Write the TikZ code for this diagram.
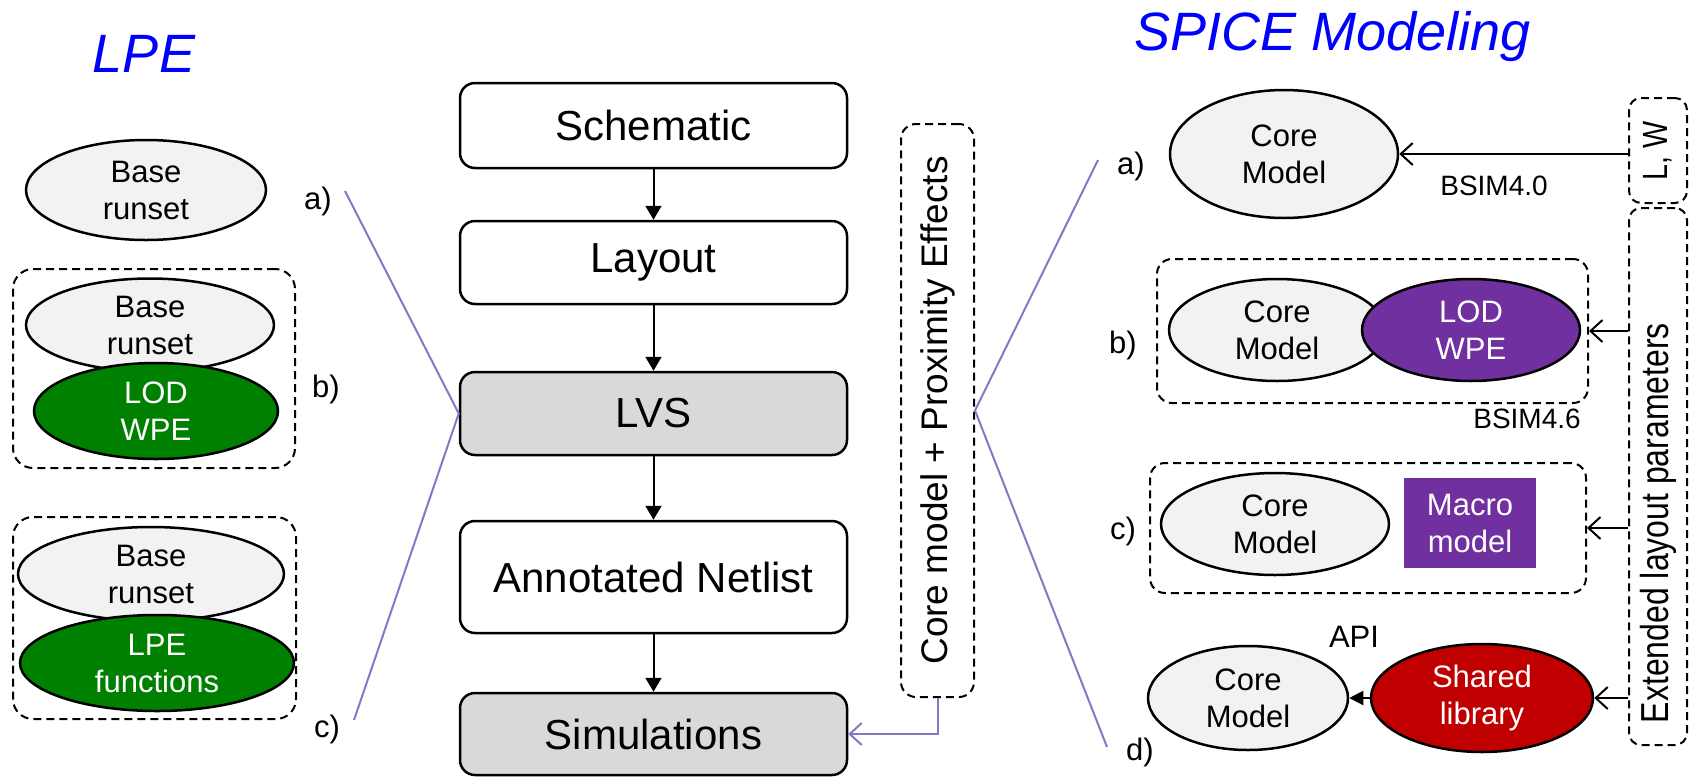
\documentclass[tikz,border=0pt]{standalone}
\usepackage{fontspec}
\setmainfont{Liberation Sans}
\usetikzlibrary{shapes.geometric,arrows.meta}

\definecolor{ovalgrey}{RGB}{242,242,242}
\definecolor{boxgrey}{RGB}{217,217,217}
\definecolor{lpegreen}{RGB}{0,128,0}
\definecolor{wpepurple}{RGB}{112,48,160}
\definecolor{libred}{RGB}{192,0,0}
\definecolor{linkpurple}{RGB}{132,120,196}
\definecolor{titleblue}{RGB}{0,0,255}

\begin{document}
\begin{tikzpicture}[x=1pt,y=-1pt,
  flowbox/.style={draw,line width=2.5pt,rounded corners=15pt,minimum width=387pt,inner sep=0pt,font=\fontsize{42}{48}\selectfont},
  oval/.style={ellipse,draw,line width=2.5pt,fill=ovalgrey,inner sep=0pt,align=center,font=\fontsize{31}{37}\selectfont},
  grpbox/.style={draw,line width=2pt,dash pattern=on 8pt off 5pt,rounded corners=20pt,inner sep=0pt},
  letter/.style={font=\fontsize{31}{37}\selectfont,inner sep=0pt},
  sublabel/.style={font=\fontsize{28}{34}\selectfont,inner sep=0pt},
  flow/.style={line width=2pt,-{Triangle[length=14pt,width=16pt]}},
  feed/.style={line width=2pt,-{Straight Barb[length=12pt,width=22pt,line width=2pt]}},
  link/.style={draw=linkpurple,line width=2pt}]

\useasboundingbox (0,0) rectangle (1692,777);

% titles
\node[anchor=base,text=titleblue,font=\fontsize{54}{60}\selectfont\itshape] (lpetitle) at (144,72) {LPE};
\node[anchor=base,text=titleblue,font=\fontsize{54}{60}\selectfont\itshape] (spicetitle) at (1333,50) {SPICE Modeling};

% design flow
\node[flowbox,minimum height=85pt] (schem) at (653.5,125.5) {Schematic};
\node[flowbox,minimum height=83pt] (layout) at (653.5,262.5) {Layout};
\node[flowbox,minimum height=83pt,fill=boxgrey] (lvs) at (653.5,413.5) {LVS};
\node[flowbox,minimum height=112pt] (netlist) at (653.5,577) {Annotated Netlist};
\node[flowbox,minimum height=82pt,fill=boxgrey] (sims) at (653.5,734) {Simulations};
\foreach \a/\b in {schem/layout,layout/lvs,lvs/netlist,netlist/sims}
  \draw[flow] (\a) -- (\b);

\node[grpbox,rounded corners=15pt,minimum width=73pt,minimum height=573pt] (prox) at (937.5,410.5) {};
\node[rotate=90,font=\fontsize{37}{42}\selectfont] (proxtext) at (prox.center) {Core model + Proximity Effects};
\draw[link,-{Straight Barb[length=12pt,width=22pt,line width=2pt]}] (prox.south) |- (sims.east);

% LPE side
\node[oval,minimum width=240pt,minimum height=100pt] (baseA) at (146,190) {Base\\runset};
\node[letter] (la) at (318,201) {a)};

\node[grpbox,minimum width=282pt,minimum height=199pt] (grpB) at (154,368.5) {};
\node[oval,minimum width=248pt,minimum height=93pt] (baseB) at (150,325) {Base\\runset};
\node[oval,fill=lpegreen,text=white,minimum width=244pt,minimum height=96pt] (lodL) at (156,411) {LOD\\WPE};
\node[letter] (lb) at (326,389) {b)};

\node[grpbox,minimum width=283pt,minimum height=202pt] (grpC) at (154.5,618) {};
\node[oval,minimum width=266pt,minimum height=94pt] (baseC) at (151,574) {Base\\runset};
\node[oval,fill=lpegreen,text=white,minimum width=274pt,minimum height=96pt] (funcL) at (157,663) {LPE\\functions};
\node[letter] (lc) at (327,729) {c)};

\coordinate (lpeA) at (345,191);
\coordinate (lpeC) at (354,720);
\draw[link] (lpeA) -- (lvs.west) -- (lpeC);

% SPICE side
\coordinate (spA) at (1098,160);
\coordinate (spD) at (1107,747);
\draw[link] (spA) -- (prox.east) -- (spD);

\node[grpbox,rounded corners=12pt,minimum width=58pt,minimum height=105pt] (lwbox) at (1658,150.5) {};
\node[rotate=90] (lwtext) at (lwbox.center) {\scalebox{0.82}[1]{\fontsize{35}{40}\selectfont L, W}};
\node[grpbox,rounded corners=12pt,minimum width=58pt,minimum height=537pt] (extbox) at (1658,476.5) {};
\node[rotate=90] (exttext) at (1658,523) {\scalebox{0.82}[1]{\fontsize{39}{44}\selectfont Extended layout parameters}};

\node[letter] (ra) at (1131,166) {a)};
\node[oval,minimum width=228pt,minimum height=128pt] (coreA) at (1284,154) {Core\\Model};
\node[sublabel] (bsimA) at (1494,186) {BSIM4.0};
\draw[feed] (coreA.east -| lwbox.west) -- (coreA.east);

\node[grpbox,rounded corners=15pt,minimum width=431pt,minimum height=144pt] (grpRB) at (1372.5,331) {};
\node[letter] (rb) at (1123,345) {b)};
\node[oval,minimum width=216pt,minimum height=102pt] (coreB) at (1277,330) {Core\\Model};
\node[oval,fill=wpepurple,text=white,minimum width=218pt,minimum height=102pt] (lodR) at (1471,330) {LOD\\WPE};
\node[sublabel] (bsimB) at (1527,419) {BSIM4.6};
\draw[feed] (extbox.west |- grpRB.east) -- (grpRB.east);

\node[grpbox,rounded corners=15pt,minimum width=436pt,minimum height=130pt] (grpRC) at (1368,528) {};
\node[letter] (rc) at (1123,531) {c)};
\node[oval,minimum width=228pt,minimum height=102pt] (coreC) at (1275,524) {Core\\Model};
\node[fill=wpepurple,text=white,minimum width=132pt,minimum height=90pt,inner sep=0pt,align=center,font=\fontsize{31}{37}\selectfont] (macro) at (1470,523) {Macro\\model};
\draw[feed] (extbox.west |- grpRC.east) -- (grpRC.east);

\node[letter] (api) at (1354,637) {API};
\node[oval,minimum width=200pt,minimum height=104pt] (coreD) at (1248,698) {Core\\Model};
\node[oval,fill=libred,text=white,minimum width=222pt,minimum height=108pt] (shlib) at (1482,698) {Shared\\library};
\node[letter] (rd) at (1140,752) {d)};
\draw[line width=2pt,-{Triangle[length=14pt,width=14pt]}] (shlib) -- (coreD);
\draw[feed] (extbox.west |- shlib.east) -- (shlib.east);

\end{tikzpicture}
\end{document}
